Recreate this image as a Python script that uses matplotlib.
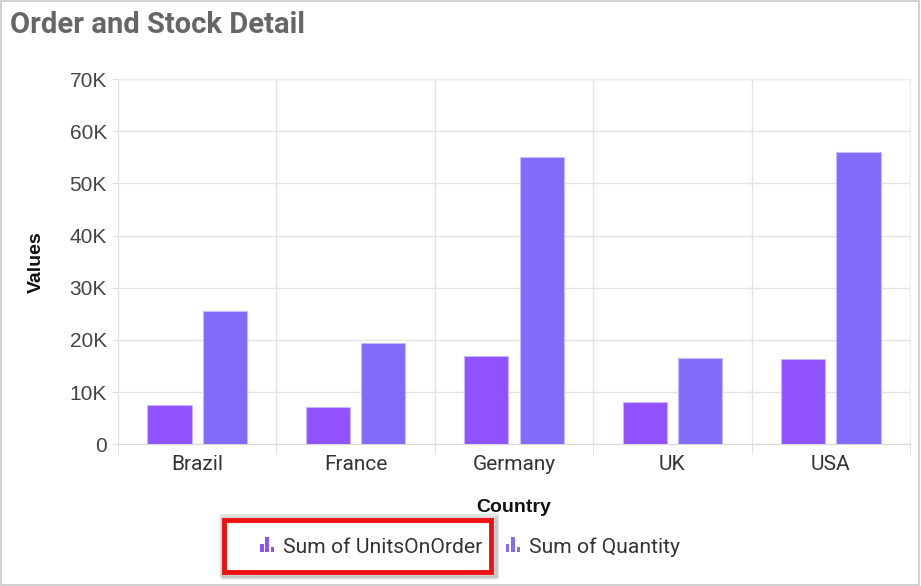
import numpy as np
import matplotlib.pyplot as plt
from matplotlib.patches import Rectangle
from matplotlib.legend_handler import HandlerBase
from matplotlib.ticker import FuncFormatter

plt.rcParams['font.family'] = ['Roboto', 'DejaVu Sans']

countries = ['Brazil', 'France', 'Germany', 'UK', 'USA']
units_on_order = [7450, 7100, 16900, 8100, 16250]
quantity = [25600, 19500, 55000, 16600, 56000]
series_names = ['Sum of UnitsOnOrder', 'Sum of Quantity']
colors = ['#8F52FE', '#806CF8']


class BarIcon(HandlerBase):
	# little three-bar glyph used as the legend marker
	def create_artists(self, legend, orig, xd, yd, w, h, fontsize, trans):
		col = orig.get_facecolor()
		bw = w * 0.22
		arts = []
		for k, frac in enumerate([0.55, 1.0, 0.35]):
			r = Rectangle((xd + k * bw * 1.55, yd), bw, h * frac, facecolor=col,
						  edgecolor='none', transform=trans)
			arts.append(r)
		return arts


fig = plt.figure(figsize=(9.21, 5.86), dpi=100)
ax = fig.add_axes([118 / 921, 1 - 444.3 / 586, 792 / 921, (444.3 - 79) / 586])

x = np.arange(len(countries))
w = 0.28
b1 = ax.bar(x - 0.175, units_on_order, w, color=colors[0], edgecolor='#C9B5FF', linewidth=0.8,
			label=series_names[0], zorder=3)
b2 = ax.bar(x + 0.175, quantity, w, color=colors[1], edgecolor='#C4BCFF', linewidth=0.8,
			label=series_names[1], zorder=3)

ax.set_xlim(-0.5, len(countries) - 0.5)
ax.set_ylim(0, 70000)
ax.set_yticks(np.arange(0, 70001, 10000))
ax.yaxis.set_major_formatter(FuncFormatter(lambda v, p: '0' if v == 0 else '%dK' % (v / 1000)))
ax.set_xticks(x)
ax.set_xticklabels(countries)
ax.set_xticks(np.arange(-0.5, len(countries)), minor=True)
for t in ax.get_yticklabels():
	t.set_fontfamily('Liberation Sans')

ax.grid(True, axis='y', color='#E3E3E3', linewidth=1, zorder=0)
ax.grid(True, axis='x', which='minor', color='#E3E3E3', linewidth=1, zorder=0)
for s in ['top', 'right']:
	ax.spines[s].set_color('#EEEEEE')
ax.spines['left'].set_color('#E3E3E3')
ax.spines['bottom'].set_color('#D8D8D8')

ax.tick_params(axis='y', length=4, color='#DDDDDD', labelsize=15, labelcolor='#444444', pad=4)
ax.tick_params(axis='x', which='major', length=0, labelsize=15, labelcolor='#333333', pad=8)
ax.tick_params(axis='x', which='minor', length=7, color='#DDDDDD')

ax.set_ylabel('Values', fontsize=14, fontweight='bold', color='#111111', labelpad=18,
			  family='Liberation Sans')
ax.set_xlabel('Country', fontsize=14, fontweight='bold', color='#111111', labelpad=18,
			  family='Liberation Sans')

fig.text(10 / 921, 1 - 25 / 586, 'Order and Stock Detail', fontsize=21, fontweight='bold',
		 color='#666666', va='center', ha='left')

leg = fig.legend(handles=[b1.patches[0], b2.patches[0]], labels=series_names,
				 handler_map={Rectangle: BarIcon()},
				 loc='center', bbox_to_anchor=(470 / 921, 1 - 547 / 586), ncol=2, frameon=False,
				 fontsize=15.2, handlelength=0.75, handleheight=0.75, handletextpad=0.35, columnspacing=1.1)
for t in leg.get_texts():
	t.set_color('#333333')

# highlight box with soft shadow around the first legend entry
for i, a in enumerate([0.05, 0.08, 0.11]):
	fig.patches.append(Rectangle(((222 + 2 - i) / 921, 1 - (576 + 2 - i) / 586), (271 + 2 * i) / 921,
								 (56 + 2 * i) / 586, transform=fig.transFigure, facecolor='none',
								 edgecolor='black', alpha=a, linewidth=3))
fig.patches.append(Rectangle((224 / 921, 1 - 572 / 586), 267 / 921, 52 / 586,
							 transform=fig.transFigure, facecolor='none', edgecolor='#EE1111', linewidth=3.5))

# outer frame
fig.patches.append(Rectangle((0.5 / 921, 1.5 / 586), 918 / 921, 583.5 / 586, transform=fig.transFigure,
							 facecolor='none', edgecolor='#C8C8C8', linewidth=1.2))

fig.savefig('out.png', dpi=100)
